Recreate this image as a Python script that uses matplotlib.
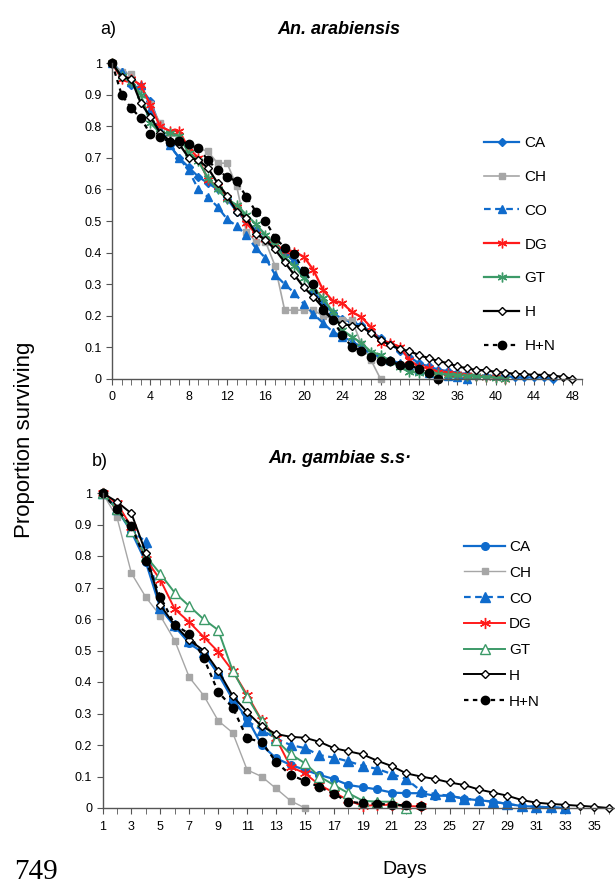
import matplotlib
matplotlib.use("Agg")
import matplotlib.pyplot as plt
from matplotlib.ticker import MultipleLocator

plt.rcParams.update({
    "font.family": ["Liberation Sans", "DejaVu Sans"],
    "axes.spines.top": False,
    "axes.spines.right": False,
    "axes.linewidth": 1.0,
    "axes.edgecolor": "#555555",
})

BLUE = "#0F6BCC"
GRAY = "#A6A6A6"
RED = "#FF1A1A"
GREEN = "#3C9A68"
BLACK = "#000000"
STAR = (6, 2, 0)

# ---- a) An. arabiensis, days 0..48 ----
a_ca = [1.0, 0.97, 0.93, 0.92, 0.88, 0.80, 0.74, 0.70, 0.67, 0.64, 0.62, 0.60, 0.57, 0.53,
        0.50, 0.47, 0.44, 0.42, 0.40, 0.37, 0.33, 0.28, 0.24, 0.21, 0.19, 0.18, 0.17, 0.15,
        0.13, 0.11, 0.09, 0.07, 0.05, 0.04, 0.03, 0.025, 0.02, 0.015, 0.01, 0.01, 0.01, 0.01,
        0.005, 0.005, 0.005, 0.005, 0.0]
a_ch = [1.0, 0.97, 0.965, 0.92, 0.87, 0.81, 0.78, 0.76, 0.74, 0.73, 0.72, 0.683, 0.683,
        0.61, 0.466, 0.435, 0.435, 0.358, 0.218, 0.218, 0.218, 0.218, 0.20, 0.19, 0.187,
        0.187, 0.11, 0.06, 0.0]
a_co = [1.0, 0.97, 0.94, 0.93, 0.85, 0.78, 0.74, 0.70, 0.66, 0.60, 0.576, 0.545, 0.506,
        0.484, 0.456, 0.414, 0.383, 0.33, 0.30, 0.273, 0.237, 0.206, 0.177, 0.15, 0.134,
        0.12, 0.10, 0.08, 0.07, 0.06, 0.05, 0.04, 0.03, 0.02, 0.015, 0.01, 0.005, 0.0]
a_dg = [1.0, 0.95, 0.95, 0.93, 0.867, 0.80, 0.785, 0.785, 0.73, 0.70, 0.63, 0.61, 0.573,
        0.545, 0.493, 0.46, 0.443, 0.427, 0.406, 0.403, 0.387, 0.345, 0.282, 0.248, 0.24,
        0.213, 0.196, 0.164, 0.114, 0.114, 0.102, 0.06, 0.039, 0.034, 0.023, 0.02, 0.017,
        0.013, 0.01, 0.007, 0.005, 0.0]
a_gt = [1.0, 0.958, 0.94, 0.90, 0.81, 0.78, 0.777, 0.77, 0.714, 0.69, 0.636, 0.60, 0.57,
        0.55, 0.52, 0.49, 0.456, 0.424, 0.383, 0.358, 0.32, 0.288, 0.256, 0.213, 0.155,
        0.134, 0.114, 0.086, 0.076, 0.057, 0.038, 0.023, 0.02, 0.018, 0.016, 0.014, 0.012,
        0.01, 0.008, 0.006, 0.004, 0.0]
a_h = [1.0, 0.957, 0.95, 0.873, 0.83, 0.78, 0.754, 0.744, 0.70, 0.693, 0.668, 0.62, 0.58,
       0.53, 0.51, 0.46, 0.44, 0.41, 0.37, 0.33, 0.29, 0.26, 0.226, 0.187, 0.174, 0.169,
       0.166, 0.145, 0.123, 0.108, 0.095, 0.088, 0.076, 0.066, 0.057, 0.05, 0.04, 0.034,
       0.028, 0.028, 0.022, 0.02, 0.016, 0.015, 0.013, 0.013, 0.01, 0.007, 0.0]
a_hn = [1.0, 0.90, 0.857, 0.826, 0.775, 0.766, 0.75, 0.754, 0.743, 0.73, 0.693, 0.66, 0.64,
        0.625, 0.577, 0.53, 0.50, 0.447, 0.416, 0.395, 0.343, 0.30, 0.218, 0.187, 0.139,
        0.102, 0.089, 0.07, 0.057, 0.057, 0.044, 0.044, 0.032, 0.02, 0.0]

# ---- b) An. gambiae s.s., days 1..36 ----
b_ca = [1.0, 0.948, 0.877, 0.78, 0.634, 0.576, 0.523, 0.491, 0.425, 0.345, 0.285, 0.20,
        0.158, 0.137, 0.121, 0.105, 0.092, 0.073, 0.066, 0.059, 0.049, 0.047, 0.047, 0.039,
        0.039, 0.029, 0.025, 0.02, 0.013, 0.006, 0.004, 0.002, 0.0]
b_ch = [1.0, 0.923, 0.745, 0.669, 0.61, 0.531, 0.415, 0.357, 0.277, 0.239, 0.121, 0.10,
        0.062, 0.023, 0.0]
b_co = [1.0, 0.95, 0.88, 0.845, 0.634, 0.58, 0.53, 0.495, 0.43, 0.35, 0.276, 0.248, 0.221,
        0.20, 0.19, 0.168, 0.16, 0.148, 0.134, 0.124, 0.108, 0.092, 0.055, 0.044, 0.039,
        0.03, 0.025, 0.02, 0.013, 0.006, 0.004, 0.002, 0.0]
b_dg = [1.0, 0.967, 0.893, 0.79, 0.724, 0.631, 0.59, 0.543, 0.496, 0.435, 0.359, 0.279,
        0.221, 0.131, 0.11, 0.073, 0.049, 0.025, 0.006, 0.01, 0.01, 0.006, 0.005]
b_gt = [1.0, 0.948, 0.88, 0.80, 0.743, 0.683, 0.641, 0.599, 0.565, 0.436, 0.353, 0.277,
        0.216, 0.171, 0.142, 0.10, 0.073, 0.047, 0.023, 0.02, 0.02, 0.0]
b_h = [1.0, 0.972, 0.935, 0.81, 0.644, 0.58, 0.533, 0.50, 0.436, 0.356, 0.304, 0.26, 0.235,
       0.226, 0.223, 0.21, 0.19, 0.18, 0.17, 0.15, 0.133, 0.11, 0.10, 0.092, 0.081, 0.073,
       0.059, 0.049, 0.039, 0.025, 0.017, 0.013, 0.01, 0.007, 0.004, 0.0]
b_hn = [1.0, 0.948, 0.896, 0.784, 0.671, 0.581, 0.553, 0.476, 0.368, 0.319, 0.221, 0.21,
        0.146, 0.105, 0.086, 0.067, 0.044, 0.02, 0.015, 0.013, 0.011, 0.008, 0.005]

W, H = 615, 886
fig = plt.figure(figsize=(W / 100, H / 100), dpi=100)


def fx(px):
    return px / W


def fy(px):
    return 1 - px / H


ax1 = fig.add_axes([fx(112), fy(379), fx(582 - 112), (379 - 63) / H])
ax2 = fig.add_axes([fx(102.5), fy(808), fx(614.5 - 102.5), (808 - 493) / H])


def draw(ax, start, series):
    for name, vals, color, ls, lw, mk, ms, mfc in series:
        x = list(range(start, start + len(vals)))
        ax.plot(x, vals, color=color, linestyle=ls, linewidth=lw, marker=mk,
                markersize=ms, markerfacecolor=mfc, markeredgecolor=color,
                markeredgewidth=1.0, label=name, clip_on=False)


draw(ax1, 0, [
    ("CA", a_ca, BLUE, "-", 1.6, "D", 4.5, BLUE),
    ("CH", a_ch, GRAY, "-", 1.2, "s", 4.5, GRAY),
    ("CO", a_co, BLUE, (0, (3, 2)), 1.6, "^", 6, BLUE),
    ("DG", a_dg, RED, "-", 1.6, STAR, 7, RED),
    ("GT", a_gt, GREEN, "-", 1.6, STAR, 7, GREEN),
    ("H", a_h, BLACK, "-", 1.6, "D", 4.5, "white"),
    ("H+N", a_hn, BLACK, (0, (2, 2)), 1.6, "o", 6, BLACK),
])

draw(ax2, 1, [
    ("CA", b_ca, BLUE, "-", 1.6, "o", 5.5, BLUE),
    ("CH", b_ch, GRAY, "-", 1.0, "s", 4.5, GRAY),
    ("CO", b_co, BLUE, (0, (3, 2)), 1.6, "^", 6.5, BLUE),
    ("DG", b_dg, RED, "-", 1.4, STAR, 8, RED),
    ("GT", b_gt, GREEN, "-", 1.4, "^", 6.5, "white"),
    ("H", b_h, BLACK, "-", 1.4, "D", 4.5, "white"),
    ("H+N", b_hn, BLACK, (0, (2, 2)), 1.6, "o", 6, BLACK),
])

for ax in (ax1, ax2):
    ax.set_ylim(0, 1)
    ax.set_yticks([i / 10 for i in range(11)])
    ax.set_yticklabels(["0"] + ["0.%d" % i for i in range(1, 10)] + ["1"])
    ax.tick_params(axis="both", which="both", direction="out", labelsize=9,
                   color="#555555", length=4)
    ax.tick_params(axis="x", which="major", pad=5)

ax1.set_xlim(0, 49)
ax1.set_xticks(range(0, 49, 4))
ax1.xaxis.set_minor_locator(MultipleLocator(1))

ax2.set_xlim(1, 36.4)
ax2.set_xticks(range(1, 36, 2))
ax2.xaxis.set_minor_locator(MultipleLocator(1))

ax1.legend(loc="upper left", bbox_to_anchor=((484 - 112) / 470, 1 - (136 - 63) / 316),
           frameon=False, fontsize=11, handlelength=2.3, labelspacing=1.3,
           handletextpad=0.35, borderpad=0, borderaxespad=0)
ax2.legend(loc="upper left", bbox_to_anchor=((464 - 102.5) / 512, 1 - (540 - 493) / 315),
           frameon=False, fontsize=11, handlelength=2.7, labelspacing=0.77,
           handletextpad=0.25, borderpad=0, borderaxespad=0)

fig.text(fx(100), fy(30), "a)", fontsize=13, va="center", ha="left")
fig.text(fx(339), fy(30), "An. arabiensis", fontsize=13, fontweight="bold",
         fontstyle="italic", va="center", ha="center")
fig.text(fx(92), fy(461), "b)", fontsize=13, va="center", ha="left")
fig.text(fx(340), fy(459), "An. gambiae s.s\u00b7", fontsize=13, fontweight="bold",
         fontstyle="italic", va="center", ha="center")
fig.text(fx(25), fy(440), "Proportion surviving", fontsize=16, rotation=90,
         va="center", ha="center")
fig.text(fx(405), fy(870), "Days", fontsize=14, va="center", ha="center")
fig.text(fx(14), fy(872), "749", fontsize=21, va="center", ha="left",
         family=["Liberation Serif", "DejaVu Serif"])

fig.savefig("out.png", dpi=100)
